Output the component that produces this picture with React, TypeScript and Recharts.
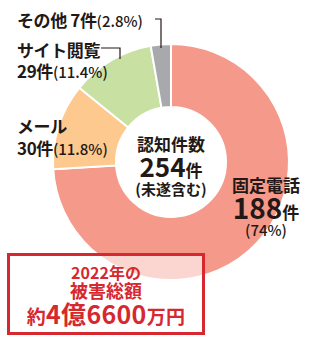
import React from 'react';
import { PieChart, Pie, Cell } from 'recharts';

const categories = ['固定電話', 'メール', 'サイト閲覧', 'その他'];
const counts = [188, 30, 29, 7];
const percents = ['74%', '11.8%', '11.4%', '2.8%'];
const colors = ['#f59a8b', '#fdc98e', '#c8e0a2', '#a7a9ac'];
const totalCount = 254;
const damageYear = '2022';

const data = categories.map((name, i) => ({ name, value: counts[i] }));

const FONT = '"Noto Sans CJK JP", "Noto Sans", sans-serif';
const DARK = '#231815';
const RED = '#d7282f';

const abs = (left: number, top: number, extra: React.CSSProperties = {}): React.CSSProperties => ({
  position: 'absolute',
  left,
  top,
  whiteSpace: 'nowrap',
  lineHeight: 1,
  ...extra,
});

const App: React.FC = () => {
  return (
    <div
      style={{
        position: 'absolute',
        left: 0,
        top: 0,
        width: 311,
        height: 339,
        fontFamily: FONT,
        fontWeight: 700,
        color: DARK,
        background: '#fff',
      }}
    >
      <PieChart width={311} height={339} margin={{ top: 0, right: 0, bottom: 0, left: 0 }}>
        <Pie
          data={data}
          dataKey="value"
          nameKey="name"
          cx={171}
          cy={162}
          innerRadius={55}
          outerRadius={118}
          startAngle={90}
          endAngle={-270}
          stroke="#fff"
          strokeWidth={2}
          isAnimationActive={false}
        >
          {data.map((d, i) => (
            <Cell key={d.name} fill={colors[i]} />
          ))}
        </Pie>
      </PieChart>

      {/* leader lines */}
      <svg width={311} height={339} style={{ position: 'absolute', left: 0, top: 0 }}>
        <polyline points="155,19 161,19 161,48" fill="none" stroke={DARK} strokeWidth={1.2} />
        <polyline points="101,48 120,48 120,59" fill="none" stroke={DARK} strokeWidth={1.2} />
      </svg>

      {/* その他 */}
      <div style={abs(17, 11, { fontSize: 17, letterSpacing: -0.4 })}>
        {categories[3]} {counts[3]}件
        <span style={{ fontSize: 15, fontWeight: 500, letterSpacing: 0 }}>({percents[3]})</span>
      </div>

      {/* サイト閲覧 */}
      <div style={abs(17, 41, { fontSize: 17, letterSpacing: -0.4 })}>{categories[2]}</div>
      <div style={abs(17, 62, { fontSize: 17, letterSpacing: -0.4 })}>
        {counts[2]}件
        <span style={{ fontSize: 15, fontWeight: 500, letterSpacing: 0 }}>({percents[2]})</span>
      </div>

      {/* メール */}
      <div style={abs(17, 117, { fontSize: 17, letterSpacing: -0.4 })}>{categories[1]}</div>
      <div style={abs(17, 139, { fontSize: 17, letterSpacing: -0.4 })}>
        {counts[1]}件
        <span style={{ fontSize: 15, fontWeight: 500, letterSpacing: 0 }}>({percents[1]})</span>
      </div>

      {/* center */}
      <div style={abs(111, 135, { width: 120, textAlign: 'center', fontSize: 17 })}>認知件数</div>
      <div style={abs(111, 153, { width: 120, textAlign: 'center', fontSize: 26 })}>
        {totalCount}
        <span style={{ fontSize: 17 }}>件</span>
      </div>
      <div style={abs(111, 181, { width: 120, textAlign: 'center', fontSize: 15 })}>(未遂含む)</div>

      {/* 固定電話 */}
      <div style={abs(206, 176, { width: 120, textAlign: 'center', fontSize: 17 })}>{categories[0]}</div>
      <div style={abs(206, 193, { width: 120, textAlign: 'center', fontSize: 28 })}>
        {counts[0]}
        <span style={{ fontSize: 17 }}>件</span>
      </div>
      <div style={abs(206, 222, { width: 120, textAlign: 'center', fontSize: 15, fontWeight: 500 })}>
        ({percents[0]})
      </div>

      {/* damage box */}
      <div
        style={{
          position: 'absolute',
          left: 7,
          top: 253,
          width: 192,
          height: 76,
          border: `3px solid ${RED}`,
          background: 'rgba(255,255,255,0.6)',
        }}
      />
      <div style={abs(7, 264, { width: 198, textAlign: 'center', fontSize: 16, color: RED })}>
        {damageYear}年の
      </div>
      <div style={abs(7, 281, { width: 198, textAlign: 'center', fontSize: 18, color: RED })}>被害総額</div>
      <div style={abs(7, 301, { width: 198, textAlign: 'center', fontSize: 25, color: RED, letterSpacing: 0.3 })}>
        <span style={{ fontSize: 19 }}>約</span>4億6600<span style={{ fontSize: 19 }}>万円</span>
      </div>
    </div>
  );
};

export default App;
